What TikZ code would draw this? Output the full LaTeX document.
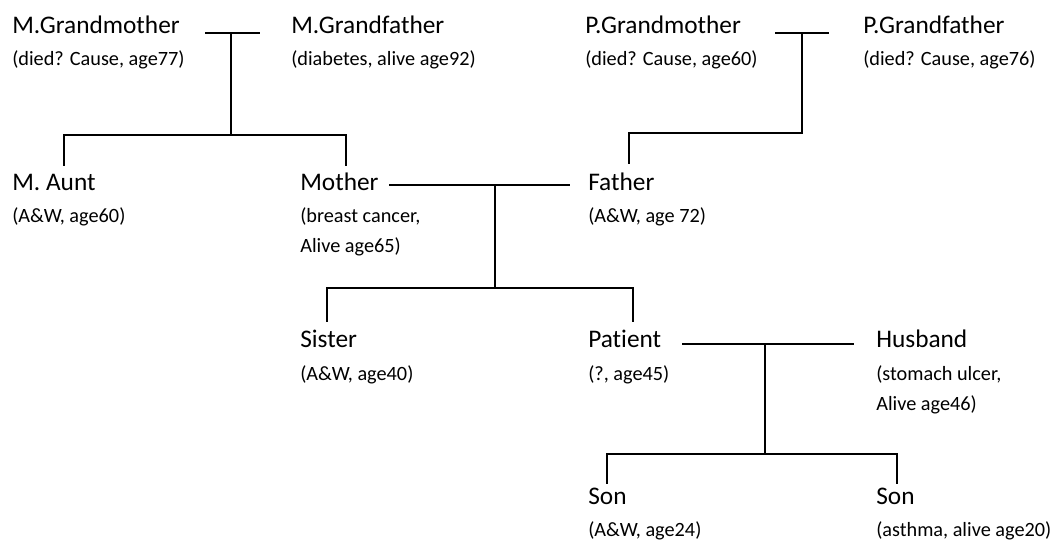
\documentclass[tikz,border=0pt]{standalone}
\usepackage{fontspec}
\setmainfont[Ligatures=NoCommon]{Carlito}
\begin{document}
\begin{tikzpicture}[x=0.75pt,y=-0.75pt,
  nm/.style={anchor=base west,inner sep=0pt,font=\fontsize{19}{23}\selectfont},
  sub/.style={anchor=base west,inner sep=0pt,align=left,font=\fontsize{15.2}{22.5}\selectfont},
  ln/.style={line width=1.5pt,line cap=rect}]
\useasboundingbox (0,0) rectangle (1061,541);
% generation 1
\node[nm] (mgm) at (12,34) {M.Grandmother};
\node[sub] (mgmS) at (12,66) {(died? Cause, age77)};
\node[nm] (mgf) at (291,34) {M.Grandfather};
\node[sub] (mgfS) at (291,66) {(diabetes, alive age92)};
\node[nm] (pgm) at (585,34) {P.Grandmother};
\node[sub] (pgmS) at (585,66) {(died? Cause, age60)};
\node[nm] (pgf) at (863,34) {P.Grandfather};
\node[sub] (pgfS) at (863,66) {(died? Cause, age76)};
% generation 2
\node[nm] (aunt) at (12,191) {M. Aunt};
\node[sub] (auntS) at (12,223) {(A\&W, age60)};
\node[nm] (mother) at (300,191) {Mother};
\node[sub] (motherS) at (300,253) {(breast cancer,\\Alive age65)};
\node[nm] (father) at (588,191) {Father};
\node[sub] (fatherS) at (588,223) {(A\&W, age 72)};
% generation 3
\node[nm] (sister) at (300,348) {Sister};
\node[sub] (sisterS) at (300,381) {(A\&W, age40)};
\node[nm] (patient) at (588,348) {Patient};
\node[sub] (patientS) at (588,381) {(?, age45)};
\node[nm] (husband) at (876,348) {Husband};
\node[sub] (husbandS) at (876,411) {(stomach ulcer,\\Alive age46)};
% generation 4
\node[nm] (son1) at (588,505) {Son};
\node[sub] (son1S) at (588,537) {(A\&W, age24)};
\node[nm] (son2) at (876,505) {Son};
\node[sub] (son2S) at (876,537) {(asthma, alive age20)};
% junction coordinates
\coordinate (m1a) at (206,33); \coordinate (m1b) at (259,33); \coordinate (m1c) at (231,33);
\coordinate (m1d) at (231,135); \coordinate (m1l) at (64,135); \coordinate (m1r) at (346,135);
\coordinate (auntT) at (64,165); \coordinate (motherT) at (346,165);
\coordinate (p1a) at (776,33); \coordinate (p1b) at (828,33); \coordinate (p1c) at (802,33);
\coordinate (p1d) at (802,133); \coordinate (p1l) at (629,133); \coordinate (fatherT) at (629,163);
\coordinate (m2a) at (390,185); \coordinate (m2b) at (569,185); \coordinate (m2c) at (495,185);
\coordinate (m2d) at (495,288); \coordinate (m2l) at (327,288); \coordinate (m2r) at (633,288);
\coordinate (sisterT) at (327,321); \coordinate (patientT) at (633,321);
\coordinate (m3a) at (683,344); \coordinate (m3b) at (853,344); \coordinate (m3c) at (765,344);
\coordinate (m3d) at (765,454); \coordinate (m3l) at (607,454); \coordinate (m3r) at (897,454);
\coordinate (son1T) at (607,483); \coordinate (son2T) at (897,483);
% connectors
\draw[ln] (m1a) -- (m1b);
\draw[ln] (m1c) -- (m1d);
\draw[ln] (auntT) -- (m1l) -- (m1r) -- (motherT);
\draw[ln] (p1a) -- (p1b);
\draw[ln] (p1c) -- (p1d) -- (p1l) -- (fatherT);
\draw[ln] (m2a) -- (m2b);
\draw[ln] (m2c) -- (m2d);
\draw[ln] (sisterT) -- (m2l) -- (m2r) -- (patientT);
\draw[ln] (m3a) -- (m3b);
\draw[ln] (m3c) -- (m3d);
\draw[ln] (son1T) -- (m3l) -- (m3r) -- (son2T);
\end{tikzpicture}
\end{document}
